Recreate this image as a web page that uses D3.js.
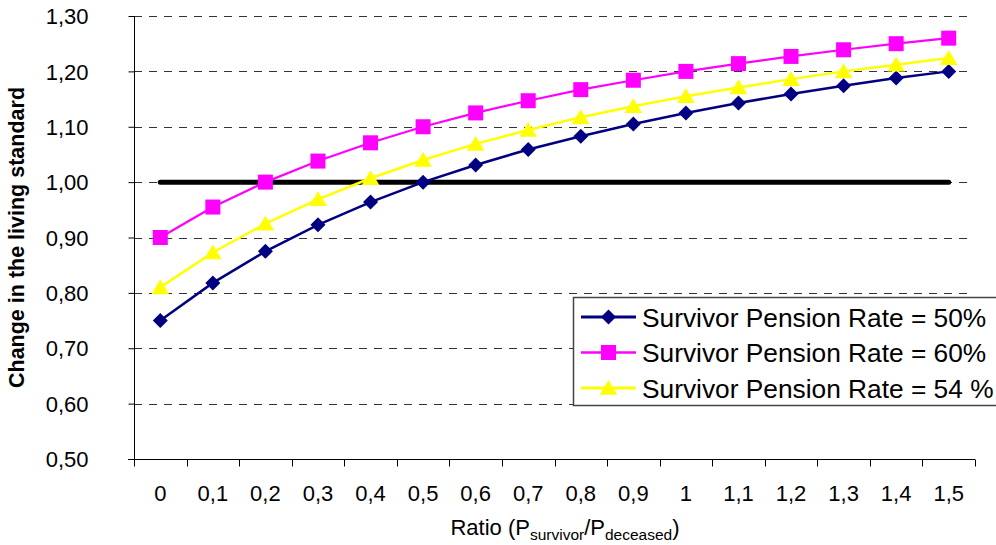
<!DOCTYPE html>
<html>
<head>
<meta charset="utf-8">
<script src="https://cdn.jsdelivr.net/npm/d3@7"></script>
<style>
  html, body { margin: 0; padding: 0; background: #fff; }
  svg { display: block; font-family: "Liberation Sans", Arial, sans-serif; }
</style>
</head>
<body>
<svg id="chart" width="996" height="545"></svg>
<script>
// ---- data ----
const categories = ["0","0,1","0,2","0,3","0,4","0,5","0,6","0,7","0,8","0,9","1","1,1","1,2","1,3","1,4","1,5"];
const rate50 = [0.750,0.818,0.875,0.923,0.964,1.000,1.031,1.059,1.083,1.105,1.125,1.143,1.159,1.174,1.188,1.200];
const rate60 = [0.900,0.955,1.000,1.038,1.071,1.100,1.125,1.147,1.167,1.184,1.200,1.214,1.227,1.239,1.250,1.260];
const rate54 = [0.810,0.873,0.925,0.969,1.007,1.040,1.069,1.094,1.117,1.137,1.155,1.171,1.186,1.200,1.212,1.224];
const reference = [1,1,1,1,1,1,1,1,1,1,1,1,1,1,1,1];
const yTicks = [0.5,0.6,0.7,0.8,0.9,1.0,1.1,1.2,1.3];
const seriesNames = ["Survivor Pension Rate = 50%","Survivor Pension Rate = 60%","Survivor Pension Rate = 54 %"];

// ---- layout ----
const W = 996, H = 545;
const m = { left: 134, right: 21, top: 16, bottom: 86 };
const svg = d3.select("#chart");

const x = d3.scaleBand().domain(categories).range([m.left, W - m.right]);
const y = d3.scaleLinear().domain([0.5, 1.3]).range([H - m.bottom, m.top]);
const cx = c => x(c) + x.bandwidth() / 2;

// gridlines
svg.append("g").selectAll("line").data(yTicks.filter(t => t > 0.5)).join("line")
  .attr("x1", m.left).attr("x2", W - m.right - 2)
  .attr("y1", d => Math.round(y(d)) + 0.5).attr("y2", d => Math.round(y(d)) + 0.5)
  .attr("stroke", "#333").attr("stroke-width", 1).attr("stroke-dasharray", "8,7");

// y axis
const yAxis = d3.axisLeft(y).tickValues(yTicks).tickSize(6).tickPadding(0)
  .tickFormat(d => d3.format(".2f")(d).replace(".", ","));
const gy = svg.append("g").attr("transform", `translate(${m.left + 0.5},0)`).call(yAxis);
gy.select(".domain").attr("stroke", "#000").attr("d", `M0,${y(1.3)}V${y(0.5)}`);
gy.selectAll(".tick line").attr("stroke", "#000");
gy.selectAll(".tick text").attr("x", -46).attr("dy", "0.35em")
  .attr("font-size", 22).attr("fill", "#000").attr("font-family", "Liberation Sans, Arial, sans-serif");

// x axis
const xAxis = d3.axisBottom(x).tickSize(0).tickPadding(0);
const gx = svg.append("g").attr("transform", `translate(0,${Math.round(y(0.5)) + 0.5})`).call(xAxis);
gx.select(".domain").attr("stroke", "#000").attr("d", `M${m.left - 6},0H${W - m.right}`);
gx.selectAll(".tick text").attr("y", 41).attr("dy", 0)
  .attr("font-size", 22).attr("fill", "#000").attr("font-family", "Liberation Sans, Arial, sans-serif");
// boundary tick marks
const bounds = categories.map(c => x(c)).concat([x(categories[categories.length - 1]) + x.bandwidth()]);
gx.append("g").selectAll("line").data(bounds).join("line")
  .attr("x1", d => Math.round(d) + 0.5).attr("x2", d => Math.round(d) + 0.5)
  .attr("y1", 0).attr("y2", 7).attr("stroke", "#000");

// reference line (1.00)
const line = d3.line().x((d, i) => cx(categories[i])).y(d => y(d));
svg.append("path").datum(reference).attr("d", line)
  .attr("fill", "none").attr("stroke", "#000").attr("stroke-width", 5).attr("stroke-linecap", "round");

// marker shapes
const diamond = s => `M0,${-s}L${s},0L0,${s}L${-s},0Z`;
const square = s => `M${-s},${-s}H${s}V${s}H${-s}Z`;
const triangle = s => `M0,${-s}L${s * 1.1},${s * 0.85}L${-s * 1.1},${s * 0.85}Z`;

const series = [
  { name: seriesNames[0], values: rate50, color: "#000080", width: 2.5, shape: diamond(7.5) },
  { name: seriesNames[1], values: rate60, color: "#FF00FF", width: 2.2, shape: square(7.5) },
  { name: seriesNames[2], values: rate54, color: "#FFFF00", width: 2.5, shape: triangle(8) }
];

series.forEach(s => {
  const g = svg.append("g");
  g.append("path").datum(s.values).attr("d", line)
    .attr("fill", "none").attr("stroke", s.color).attr("stroke-width", s.width);
  g.selectAll("path.mk").data(s.values).join("path").attr("class", "mk")
    .attr("transform", (d, i) => `translate(${cx(categories[i])},${y(d)})`)
    .attr("d", s.shape).attr("fill", s.color);
});

// legend
const lg = svg.append("g");
lg.append("rect").attr("x", 573.5).attr("y", 297.5).attr("width", 440).attr("height", 108)
  .attr("fill", "#fff").attr("stroke", "#444").attr("stroke-width", 1.5);
series.forEach((s, i) => {
  const yy = 317 + i * 35.5;
  lg.append("line").attr("x1", 581).attr("x2", 636).attr("y1", yy).attr("y2", yy)
    .attr("stroke", s.color).attr("stroke-width", s.width + 0.5);
  lg.append("path").attr("transform", `translate(608.5,${yy})`).attr("d", s.shape).attr("fill", s.color);
  lg.append("text").attr("x", 642).attr("y", yy + 9.5).attr("font-size", 26.3).attr("fill", "#000").text(s.name);
});

// y title
svg.append("text").attr("transform", `translate(24,${(m.top + H - m.bottom) / 2}) rotate(-90)`)
  .attr("text-anchor", "middle").attr("font-size", 21.5).attr("font-weight", "bold").attr("fill", "#000")
  .text("Change in the living standard");

// x title
const xt = svg.append("text").attr("x", 565).attr("y", 535).attr("text-anchor", "middle")
  .attr("font-size", 22).attr("fill", "#000");
xt.append("tspan").text("Ratio (P");
xt.append("tspan").attr("font-size", 15.5).attr("dy", 5).text("survivor");
xt.append("tspan").attr("dy", -5).text("/P");
xt.append("tspan").attr("font-size", 15.5).attr("dy", 5).text("deceased");
xt.append("tspan").attr("dy", -5).text(")");
</script>
</body>
</html>
